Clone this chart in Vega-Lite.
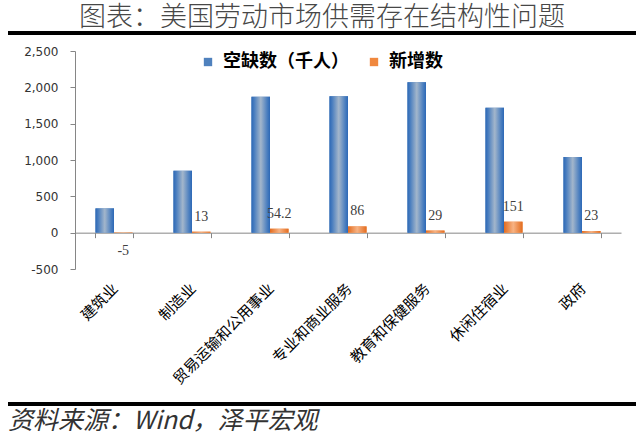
{
  "$schema": "https://vega.github.io/schema/vega-lite/v6.json",
  "padding": {"left": 8, "top": 4, "right": 0, "bottom": 0},
  "spacing": 10,
  "columns": 1,
  "background": "white",
  "config": {"font": "Noto Sans CJK SC", "view": {"stroke": null}},
  "concat": [
    {
      "width": 561,
      "height": 4,
      "title": {"text": "图表：美国劳动市场供需存在结构性问题", "fontSize": 27, "font": "Noto Sans CJK SC", "fontWeight": 300, "color": "#474747", "anchor": "middle", "frame": "bounds", "offset": -1},
      "data": {"values": [{"a": 0, "b": 1}]},
      "mark": {"type": "rect", "color": "#000000"},
      "encoding": {
        "x": {"field": "a", "type": "quantitative", "scale": {"domain": [0, 1], "range": [-67, 561]}, "axis": null},
        "x2": {"field": "b"}
      }
    },
    {
      "width": 546,
      "height": 218,
      "data": {"values": [
        {"industry": "建筑业", "series": "空缺数（千人）", "value": 334},
        {"industry": "建筑业", "series": "新增数", "value": -5},
        {"industry": "制造业", "series": "空缺数（千人）", "value": 852},
        {"industry": "制造业", "series": "新增数", "value": 13},
        {"industry": "贸易运输和公用事业", "series": "空缺数（千人）", "value": 1870},
        {"industry": "贸易运输和公用事业", "series": "新增数", "value": 54.2},
        {"industry": "专业和商业服务", "series": "空缺数（千人）", "value": 1878},
        {"industry": "专业和商业服务", "series": "新增数", "value": 86},
        {"industry": "教育和保健服务", "series": "空缺数（千人）", "value": 2071},
        {"industry": "教育和保健服务", "series": "新增数", "value": 29},
        {"industry": "休闲住宿业", "series": "空缺数（千人）", "value": 1719},
        {"industry": "休闲住宿业", "series": "新增数", "value": 151},
        {"industry": "政府", "series": "空缺数（千人）", "value": 1040},
        {"industry": "政府", "series": "新增数", "value": 23}
      ]},
      "encoding": {
        "x": {
          "field": "industry", "type": "nominal", "sort": null,
          "scale": {"paddingInner": 0.525, "paddingOuter": 0.2625},
          "axis": {
            "title": null, "orient": "bottom", "offset": -36.33,
            "domainColor": "#868686", "tickColor": "#868686", "tickSize": 5, "tickBand": "extent",
            "labelAngle": -45, "labelAlign": "right", "labelBaseline": "top", "labelPadding": 43, "labelOffset": -4,
            "labelFont": "Noto Sans CJK SC", "labelFontSize": 15, "labelColor": "#000000", "labelOverlap": false, "labelLimit": 300
          }
        },
        "xOffset": {"field": "series", "type": "nominal", "sort": ["空缺数（千人）", "新增数"], "scale": {"paddingInner": 0, "paddingOuter": 0}},
        "y": {
          "field": "value", "type": "quantitative",
          "scale": {"domain": [-500, 2500], "nice": false},
          "axis": {
            "title": null, "grid": false, "values": [-500, 0, 500, 1000, 1500, 2000, 2500], "format": ",.0f",
            "labelExpr": "replace(datum.label, '−', '-')",
            "domainColor": "#868686", "tickColor": "#868686", "tickSize": 5, "labelPadding": 12,
            "labelFont": "DejaVu Sans", "labelFontSize": 12, "labelColor": "#333333", "minExtent": 67
          }
        }
      },
      "layer": [
        {
          "mark": {"type": "bar"},
          "encoding": {
            "color": {
              "field": "series", "type": "nominal", "sort": ["空缺数（千人）", "新增数"],
              "scale": {"domain": ["空缺数（千人）", "新增数"], "range": ["#4f81bd", "#f0883e"]},
              "legend": {
                "title": null, "orient": "none", "direction": "horizontal", "legendX": 124, "legendY": 22,
                "symbolType": "square", "symbolSize": 70, "symbolStrokeWidth": 0, "columnPadding": 16, "labelOffset": 6,
                "labelFont": "Noto Sans CJK SC", "labelFontSize": 18, "labelFontWeight": "bold", "labelColor": "#000000"
              }
            }
          }
        },
        {
          "transform": [{"filter": "datum.series === '空缺数（千人）'"}],
          "mark": {"type": "bar", "fill": {"gradient": "linear", "x1": 0, "y1": 0, "x2": 1, "y2": 0, "stops": [
            {"offset": 0, "color": "#2c68b6"}, {"offset": 0.15, "color": "#4a7ebf"}, {"offset": 0.5, "color": "#a3b6cb"}, {"offset": 0.85, "color": "#4a7ebf"}, {"offset": 1, "color": "#2c68b6"}]}},
          "encoding": {}
        },
        {
          "transform": [{"filter": "datum.series === '新增数'"}],
          "mark": {"type": "bar", "fill": {"gradient": "linear", "x1": 0, "y1": 0, "x2": 1, "y2": 0, "stops": [
            {"offset": 0, "color": "#e36c1f"}, {"offset": 0.5, "color": "#f7b384"}, {"offset": 1, "color": "#e36c1f"}]}},
          "encoding": {}
        },
        {
          "transform": [{"filter": "datum.series === '新增数' && datum.value >= 0"}],
          "mark": {"type": "text", "dy": -15, "baseline": "middle", "font": "Liberation Serif", "fontSize": 14, "color": "#404040"},
          "encoding": {"text": {"field": "value", "type": "nominal"}}
        },
        {
          "transform": [{"filter": "datum.series === '新增数' && datum.value < 0"}],
          "mark": {"type": "text", "dy": 18, "baseline": "middle", "font": "Liberation Serif", "fontSize": 14, "color": "#404040"},
          "encoding": {"text": {"field": "value", "type": "nominal"}}
        }
      ]
    },
    {
      "width": 561,
      "height": 9,
      "title": {"text": "资料来源：Wind，泽平宏观", "orient": "bottom", "anchor": "start", "frame": "bounds", "fontSize": 25, "font": "Noto Sans CJK SC", "fontWeight": "normal", "fontStyle": "italic", "color": "#333333", "offset": 3},
      "data": {"values": [{"a": 0, "b": 1, "c": 0, "d": 4}]},
      "mark": {"type": "rect", "color": "#000000"},
      "encoding": {
        "x": {"field": "a", "type": "quantitative", "scale": {"domain": [0, 1], "range": [-67, 561]}, "axis": null},
        "x2": {"field": "b"},
        "y": {"field": "c", "type": "quantitative", "scale": {"domain": [0, 9]}, "axis": null},
        "y2": {"field": "d"}
      }
    }
  ]
}
